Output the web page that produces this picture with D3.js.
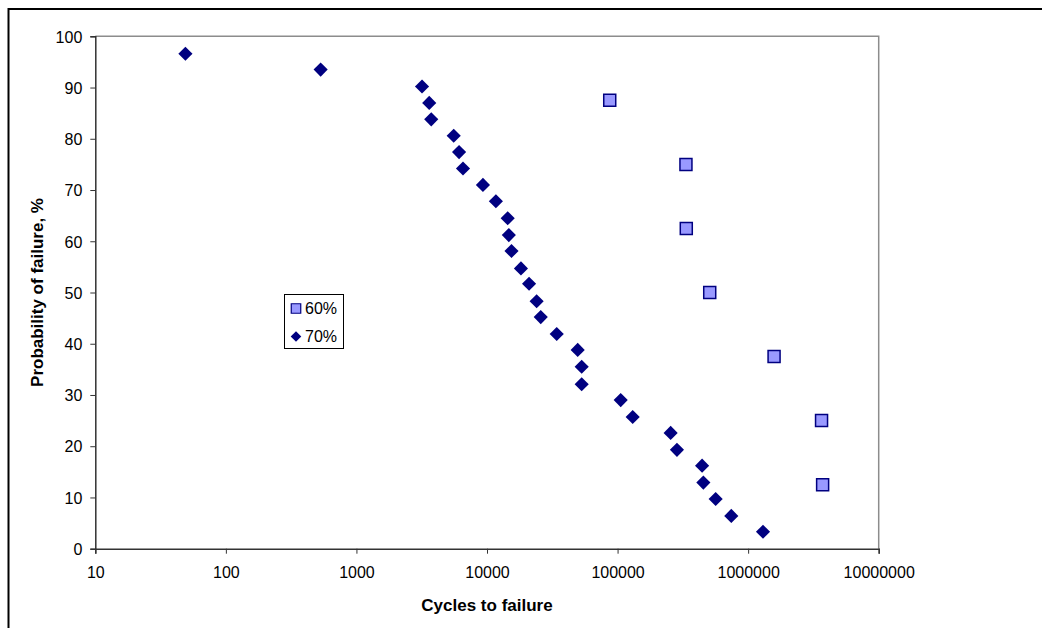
<!DOCTYPE html>
<meta charset="utf-8">
<style>
  body { margin: 0; background: #fff; }
  text { font-family: "Liberation Sans", Arial, sans-serif; fill: #000; }
</style>
<body>
<div id="chart"></div>
<script src="https://d3js.org/d3.v7.min.js"></script>
<script>

// 60% load level: cycles to failure and probability of failure (%)
var cycles60 = [87100, 334000, 336000, 508000, 1580000, 3650000, 3720000];
var prob60   = [87.5, 75.0, 62.5, 50.0, 37.5, 25.0, 12.5];

// 70% load level
var cycles70 = [49, 532, 3180, 3610, 3740, 5560, 6110, 6550, 9310, 11700,
                14400, 14700, 15400, 18200, 21000, 24000, 25800, 34200, 49500, 53100,
                53100, 105700, 130600, 255000, 285000, 444000, 454000, 564000, 743000, 1300000];
var prob70   = [96.6, 93.5, 90.2, 87.0, 83.8, 80.6, 77.4, 74.2, 71.0, 67.8,
                64.5, 61.2, 58.1, 54.7, 51.7, 48.3, 45.2, 41.9, 38.8, 35.5,
                32.1, 29.0, 25.7, 22.6, 19.3, 16.2, 12.9, 9.7, 6.4, 3.3];

var xTicks = [10, 100, 1000, 10000, 100000, 1000000, 10000000];
var yTicks = [0, 10, 20, 30, 40, 50, 60, 70, 80, 90, 100];

var W = 1042, H = 628;
var plot = {left: 95.3, right: 878.7, top: 36.3, bottom: 548.7};

var svg = d3.select("#chart").append("svg")
    .attr("width", W)
    .attr("height", H);

// outer chart frame (runs off the right and bottom edge)
svg.append("rect")
    .attr("x", 8.5).attr("y", 9)
    .attr("width", 1100).attr("height", 700)
    .attr("fill", "none")
    .attr("stroke", "#000")
    .attr("stroke-width", 2);

var x = d3.scaleLog()
    .domain([10, 10000000])
    .range([plot.left, plot.right]);

var y = d3.scaleLinear()
    .domain([0, 100])
    .range([plot.bottom, plot.top]);

// plot area border (top / right in gray)
svg.append("path")
    .attr("d", "M" + plot.left + "," + plot.top + "H" + plot.right + "V" + plot.bottom)
    .attr("fill", "none")
    .attr("stroke", "#8c8c8c")
    .attr("stroke-width", 1.5);

// axes
var xAxis = svg.append("g")
    .attr("transform", "translate(0," + plot.bottom + ")")
    .call(d3.axisBottom(x).tickValues(xTicks).tickFormat(d3.format("d")).tickSizeOuter(0).tickSize(5).tickPadding(13));

var yAxis = svg.append("g")
    .attr("transform", "translate(" + plot.left + ",0)")
    .call(d3.axisLeft(y).tickValues(yTicks).tickSizeOuter(0).tickSize(5).tickPadding(8));

[xAxis, yAxis].forEach(function(g) {
  g.select(".domain").attr("stroke", "#333").attr("stroke-width", 1.5);
  g.selectAll(".tick line").attr("stroke", "#333");
  g.selectAll(".tick text")
    .style("font-family", "'Liberation Sans', Arial, sans-serif")
    .style("font-size", "16px")
    .attr("fill", "#000");
});
yAxis.selectAll(".tick text").attr("dy", "0.36em");

// axis titles
svg.append("text")
    .attr("x", (plot.left + plot.right) / 2)
    .attr("y", 610.5)
    .attr("text-anchor", "middle")
    .style("font-size", "17px")
    .style("font-weight", "bold")
    .text("Cycles to failure");

svg.append("text")
    .attr("transform", "translate(42.5," + ((plot.top + plot.bottom) / 2) + ") rotate(-90)")
    .attr("text-anchor", "middle")
    .style("font-size", "17px")
    .style("font-weight", "bold")
    .text("Probability of failure, %");

var square = d3.symbol().type(d3.symbolSquare).size(144);
var diamond = d3.symbol().type(d3.symbolSquare).size(100);

var data60 = cycles60.map(function(c, i) { return {c: c, p: prob60[i]}; });
var data70 = cycles70.map(function(c, i) { return {c: c, p: prob70[i]}; });

svg.append("g").selectAll("path")
  .data(data60)
  .enter().append("path")
    .attr("d", square)
    .attr("transform", function(d) { return "translate(" + x(d.c) + "," + y(d.p) + ")"; })
    .attr("fill", "#9999ff")
    .attr("stroke", "#000080")
    .attr("stroke-width", 1.5);

svg.append("g").selectAll("path")
  .data(data70)
  .enter().append("path")
    .attr("d", diamond)
    .attr("transform", function(d) { return "translate(" + x(d.c) + "," + y(d.p) + ") rotate(45)"; })
    .attr("fill", "#000080");

// legend
var legend = svg.append("g");
legend.append("rect")
    .attr("x", 284.5).attr("y", 294.5)
    .attr("width", 59).attr("height", 54)
    .attr("fill", "#fff")
    .attr("stroke", "#000");

legend.append("path")
    .attr("d", d3.symbol().type(d3.symbolSquare).size(90))
    .attr("transform", "translate(296,308.5)")
    .attr("fill", "#9999ff")
    .attr("stroke", "#000080")
    .attr("stroke-width", 1.2);
legend.append("text")
    .attr("x", 305).attr("y", 308.5).attr("dy", "0.36em")
    .style("font-size", "16px")
    .text("60%");

legend.append("path")
    .attr("d", d3.symbol().type(d3.symbolSquare).size(56))
    .attr("transform", "translate(296,336.5) rotate(45)")
    .attr("fill", "#000080");
legend.append("text")
    .attr("x", 305).attr("y", 336.5).attr("dy", "0.36em")
    .style("font-size", "16px")
    .text("70%");

</script>
</body>
